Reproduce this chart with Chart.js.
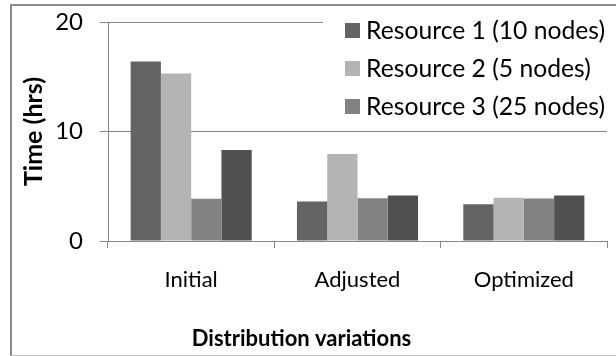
<!DOCTYPE html>
<html>
<head>
<meta charset="utf-8">
<script src="https://cdn.jsdelivr.net/npm/chart.js@4"></script>
<style>
  body { margin: 0; background: #fff; }
  #wrap { position: relative; width: 616px; height: 356px; }
  #frame {
    position: absolute; left: 10px; top: 4px; width: 610px; height: 349px;
    border-left: 2px solid #8a8a8a; border-top: 2px solid #8a8a8a; border-bottom: 1px solid #c4c4c4;
    pointer-events: none;
  }
</style>
</head>
<body>
<div id="wrap">
  <canvas id="chart" width="616" height="356"></canvas>
  <div id="frame"></div>
</div>
<script>
const categories = ['Initial', 'Adjusted', 'Optimized'];
const resource1 = [16.4, 3.6, 3.35];
const resource2 = [15.3, 7.95, 3.95];
const resource3 = [3.85, 3.9, 3.88];
const combined = [8.3, 4.15, 4.15];
const yTicks = [0, 10, 20];

const FONT = "Lato, Carlito, 'DejaVu Sans', sans-serif";
const GRID = '#868686';

// legend box drawn over the top-right of the plot, only for labelled series
const boxLegend = {
    id: 'boxLegend',
    afterLayout(chart) {
        // axis title sits a little left of the page centre
        chart.titleBlock.right -= 16;
    },
    afterDraw(chart) {
        const ctx = chart.ctx;
        ctx.save();
        ctx.fillStyle = '#fff';
        ctx.fillRect(323, 8, 293, 120);
        ctx.font = '24.7px ' + FONT;
        ctx.textBaseline = 'middle';
        let y = 30;
        chart.data.datasets.forEach(ds => {
            if (!ds.label) return;
            ctx.fillStyle = ds.backgroundColor;
            ctx.fillRect(345, y - 7, 15, 15);
            ctx.fillStyle = '#000';
            ctx.fillText(ds.label, 366, y + 1);
            y += 38;
        });
        ctx.restore();
    },
};

new Chart(document.getElementById('chart'), {
    type: 'bar',
    data: {
        labels: categories,
        datasets: [
            { label: 'Resource 1 (10 nodes)', data: resource1, backgroundColor: '#646464' },
            { label: 'Resource 2 (5 nodes)', data: resource2, backgroundColor: '#b4b4b4' },
            { label: 'Resource 3 (25 nodes)', data: resource3, backgroundColor: '#828282' },
            { label: '', data: combined, backgroundColor: '#505050' },
        ],
    },
    options: {
        responsive: false,
        animation: false,
        layout: { padding: { left: 12, right: 9, top: 22, bottom: 0 } },
        datasets: {
            bar: { categoryPercentage: 0.728, barPercentage: 1, borderWidth: 0 },
        },
        plugins: {
            legend: { display: false },
            tooltip: { enabled: false },
            title: {
                display: true,
                position: 'bottom',
                text: 'Distribution variations',
                color: '#000',
                padding: { top: 0, bottom: 4 },
                font: { family: FONT, size: 22, weight: 'bold' },
            },
        },
        scales: {
            x: {
                grid: { drawOnChartArea: false, drawTicks: true, tickLength: 7, color: GRID },
                border: { color: GRID, width: 1 },
                ticks: { color: '#000', padding: 19, font: { family: FONT, size: 22 } },
                afterFit(scale) { scale.height = 84.6; },
            },
            y: {
                min: 0,
                max: 20,
                afterBuildTicks(scale) { scale.ticks = yTicks.map(v => ({ value: v })); },
                grid: { color: GRID, tickLength: 8 },
                border: { color: GRID, width: 1 },
                ticks: { color: '#000', padding: 17, font: { family: FONT, size: 24 } },
                title: {
                    display: true,
                    text: 'Time (hrs)',
                    color: '#000',
                    padding: { top: 7, bottom: 0 },
                    font: { family: FONT, size: 25, weight: 'bold' },
                },
                afterFit(scale) {
                    scale.width = 96;
                    scale.paddingTop = 0;
                    scale.paddingBottom = 0;
                },
            },
        },
    },
    plugins: [boxLegend],
});
</script>
</body>
</html>
